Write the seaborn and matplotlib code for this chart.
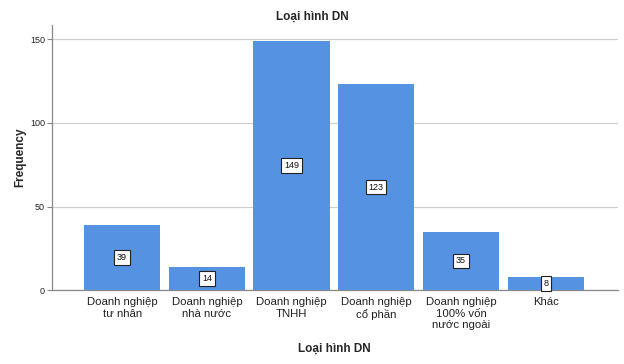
import matplotlib
matplotlib.use("Agg")
import matplotlib.pyplot as plt
import seaborn as sns
import pandas as pd

categories = ["Doanh nghiệp\ntư nhân", "Doanh nghiệp\nnhà nước", "Doanh nghiệp\nTNHH",
              "Doanh nghiệp\ncổ phần", "Doanh nghiệp\n100% vốn\nnước ngoài", "Khác"]
counts = [39, 14, 149, 123, 35, 8]
yticks = [0, 50, 100, 150]

df = pd.DataFrame({"cat": categories, "n": counts})

sns.set_theme(style="white")
plt.rcParams['font.family'] = ['Liberation Sans', 'DejaVu Sans']

fig = plt.figure(figsize=(6.24, 3.64), dpi=100)
ax = fig.add_axes([0.083, 0.203, 0.907, 0.728])

sns.barplot(data=df, x="cat", y="n", color="#5592E2", saturation=1, width=0.9,
            ax=ax, zorder=3)
for p in ax.patches:
    p.set_edgecolor("none")

ax.set_xlim(-0.83, 5.85)
ax.set_ylim(0, 158.5)
ax.set_yticks(yticks)
ax.yaxis.grid(True, color="#d0d0d0", linewidth=0.9, zorder=0)
ax.set_axisbelow(True)
for s in ["top", "right"]:
    ax.spines[s].set_visible(False)
for s in ["left", "bottom"]:
    ax.spines[s].set_color("#888888")
    ax.spines[s].set_linewidth(0.9)
ax.tick_params(axis="y", labelsize=6.5, length=3.5, width=0.8, color="#888888",
               pad=1.5, labelcolor="#222222", left=True)
ax.tick_params(axis="x", labelsize=8.2, length=0, pad=5, colors="#222222")
for lbl in ax.get_xticklabels():
    lbl.set_linespacing(1.2)

for i, v in enumerate(counts):
    ax.text(i, v / 2, str(v), ha="center", va="center", fontsize=6.5, color="#111111",
            bbox=dict(boxstyle="square,pad=0.3", fc="white", ec="#222222", lw=0.8), zorder=5)

ax.set_xlabel("Loại hình DN", fontsize=8.5, fontweight="bold", labelpad=9)
ax.set_ylabel("Frequency", fontsize=8.5, fontweight="bold")
ax.yaxis.set_label_coords(-0.045, 0.5)
fig.text(0.5, 0.955, "Loại hình DN", ha="center", va="center", fontsize=8.5, fontweight="bold")

fig.savefig("out.png", dpi=100)
